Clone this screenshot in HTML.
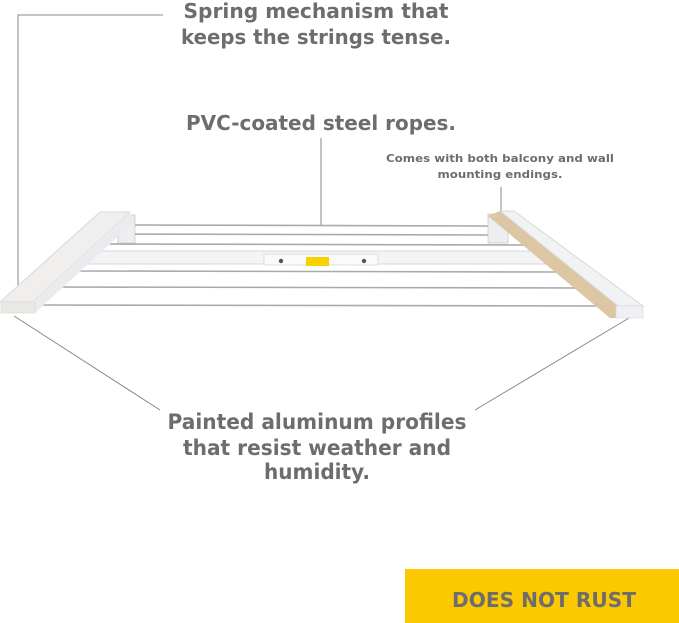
<!DOCTYPE html>
<html><head><meta charset="utf-8"><style>
html,body{margin:0;padding:0;background:#fff;}
svg{display:block;}
text{font-family:"DejaVu Sans","Liberation Sans",sans-serif;font-weight:bold;fill:#6d6d6d;}
</style></head><body>
<svg width="679" height="623" viewBox="0 0 679 623" xmlns="http://www.w3.org/2000/svg">
<g stroke="#888" stroke-width="1" fill="none">
<polyline points="163,15 18,15 18,300"/>
<line x1="321" y1="138" x2="321" y2="225"/>
<line x1="501" y1="187" x2="501" y2="211"/>
<line x1="14" y1="316" x2="160" y2="410"/>
<line x1="629" y1="318" x2="475" y2="410"/>
</g>
<g stroke="#a9a9a9" stroke-width="1.6">
<line x1="135" y1="225" x2="490" y2="226"/>
<line x1="110" y1="234" x2="495" y2="235"/>
<line x1="99" y1="244" x2="533" y2="245"/>
<line x1="72" y1="271" x2="563" y2="272"/>
<line x1="55" y1="287" x2="583" y2="288"/>
<line x1="37" y1="305" x2="607" y2="306"/>
</g>
<rect x="88" y="251" width="459" height="13" fill="#f3f4f6" stroke="#d5d7da" stroke-width="1"/>
<rect x="264" y="254" width="114" height="11" fill="#fafafa" stroke="#ccc" stroke-width="0.6"/>
<circle cx="281" cy="261" r="2.2" fill="#555"/><circle cx="364" cy="261" r="2.2" fill="#555"/>
<rect x="306" y="257" width="23" height="9" fill="#f7d200"/>
<rect x="118" y="215" width="17" height="28" fill="#eceef0" stroke="#bbb" stroke-width="0.6"/>
<rect x="488" y="214" width="20" height="29" fill="#eceef0" stroke="#bbb" stroke-width="0.6"/>
<polygon points="0,302 100,212 130,212 33,302" fill="#f1efed" stroke="#d6d8da" stroke-width="1"/>
<polygon points="33,302 130,212 134,222 36,312" fill="#e9ebef"/>
<rect x="1" y="302" width="34" height="11" fill="#ebe9e6" stroke="#d6d6d6" stroke-width="0.6"/>
<polygon points="488,216 500,211 618,306 618,318 610,318" fill="#dcc6a4"/>
<polygon points="500,211 514,211 643,306 618,306" fill="#f1f2f4" stroke="#d6d8da" stroke-width="1"/>
<rect x="616" y="306" width="27" height="12" fill="#eef0f3" stroke="#d6d8da" stroke-width="0.6"/>
<text x="316" y="18" font-size="20" text-anchor="middle" textLength="265" lengthAdjust="spacingAndGlyphs">Spring mechanism that</text>
<text x="316" y="44" font-size="20" text-anchor="middle" textLength="270" lengthAdjust="spacingAndGlyphs">keeps the strings tense.</text>
<text x="321" y="130" font-size="20" text-anchor="middle" textLength="270" lengthAdjust="spacingAndGlyphs">PVC-coated steel ropes.</text>
<text x="500" y="162" font-size="11" text-anchor="middle" textLength="228" lengthAdjust="spacingAndGlyphs">Comes with both balcony and wall</text>
<text x="500" y="178" font-size="11" text-anchor="middle" textLength="125" lengthAdjust="spacingAndGlyphs">mounting endings.</text>
<text x="317" y="429" font-size="21" text-anchor="middle" textLength="299" lengthAdjust="spacingAndGlyphs">Painted aluminum profiles</text>
<text x="317" y="455" font-size="21" text-anchor="middle" textLength="268" lengthAdjust="spacingAndGlyphs">that resist weather and</text>
<text x="317" y="479" font-size="21" text-anchor="middle" textLength="106" lengthAdjust="spacingAndGlyphs">humidity.</text>
<rect x="405" y="569" width="274" height="54" fill="#fcc800"/>
<text x="544" y="607" font-size="20" text-anchor="middle" textLength="184" lengthAdjust="spacingAndGlyphs" fill="#6f6f66">DOES NOT RUST</text>
</svg>
</body></html>
